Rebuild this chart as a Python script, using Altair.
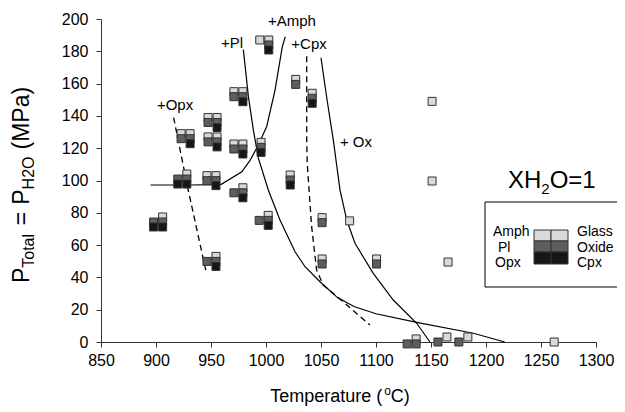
import altair as alt
import pandas as pd

FONT = "Liberation Sans"

# ---------------- experiments (anchor = top-right cell) ----------------
exp_T = [906, 928, 931, 955.5, 955.5, 954.5, 954.5, 979, 979, 979, 1002.5, 995.5, 1002,
         1027, 1042, 1022, 1051, 1051, 1076, 1100.5, 1151, 1151, 1165.5, 1136.5, 1164.5, 1183.5, 1262]
exp_P = [77.4, 104, 129, 139, 127, 103, 53, 155, 122.6, 95.5, 187, 123.6, 78.4,
         162.6, 154, 103.4, 77, 51.4, 75, 51.4, 149, 99.7, 49.5, 1.9, 3.1, 3.1, 0]
amph  = [0, 0, 1, 1, 1, 1, 0, 1, 1, 0, 1, 0, 0, 0, 0, 0, 0, 0, 0, 0, 0, 0, 0, 0, 0, 0, 0]
pl    = [1, 1, 1, 1, 1, 1, 1, 1, 1, 1, 0, 0, 1, 0, 0, 0, 0, 0, 0, 0, 0, 0, 0, 1, 1, 1, 0]
opx   = [1, 1, 0, 0, 0, 0, 0, 0, 0, 0, 0, 0, 0, 0, 0, 0, 0, 0, 0, 0, 0, 0, 0, 0, 0, 0, 0]
glass = [1, 1, 1, 1, 1, 1, 1, 1, 1, 1, 1, 1, 1, 1, 1, 1, 1, 1, 1, 1, 1, 1, 1, 1, 1, 1, 1]
oxide = [1, 1, 1, 1, 1, 1, 1, 1, 1, 1, 1, 1, 1, 1, 1, 1, 1, 1, 0, 1, 0, 0, 0, 1, 0, 0, 0]
cpx   = [1, 1, 1, 1, 1, 1, 1, 1, 1, 1, 1, 1, 1, 0, 1, 1, 0, 0, 0, 0, 0, 0, 0, 0, 0, 0, 0]

# ---------------- phase boundaries ----------------
amph_T = [895, 930, 959, 978, 985.5, 991.5, 1000.6, 1008.2, 1014.8, 1017.5]
amph_P = [97.2, 97.2, 97.5, 105.4, 112.5, 120, 133.3, 156, 182.8, 189]
pl_T = [979.4, 984, 988.5, 993, 1002.1, 1012.7, 1026.4, 1035.5, 1049.1, 1065, 1080, 1100, 1137, 1188.5, 1217]
pl_P = [181, 151.9, 131.3, 114, 94.1, 75.5, 55.9, 46.6, 37.3, 27.5, 22, 17.5, 12.2, 5.4, 0]
ox_T = [1050, 1055.5, 1061.2, 1067.3, 1073.4, 1080.9, 1097.5, 1115.7, 1137, 1149]
ox_P = [176, 150, 125, 94.1, 75.5, 61.1, 42.5, 26, 11.6, 0]
cpxb_T = [1037, 1037, 1037.5, 1041.5, 1046, 1052, 1070, 1094.5]
cpxb_P = [177, 125, 110, 71.4, 44.6, 35.3, 25, 10.5]
opxb_T = [916, 929, 946]
opxb_P = [139, 95, 42]

# ---------------- annotations ----------------
ann_text = ["+Opx", "+Pl", "+Amph", "+Cpx", "+ Ox"]
ann_T = [917.3, 969.1, 1023.6, 1039.1, 1081.8]
ann_P = [146.7, 185.1, 198.8, 184.5, 123.8]

x_ticks = list(range(850, 1301, 50))
y_ticks = list(range(0, 201, 20))

# ---------------- styles ----------------
LIGHT, MID, DARK = "#d9d9d9", "#5e5e5e", "#161616"
phase_style = {  # name: (flags, fill, xOffset, yOffset)
    "Amph": (amph, LIGHT, -9, 0),
    "Glass": (glass, LIGHT, 0, 0),
    "Pl": (pl, MID, -9, 5),
    "Oxide": (oxide, MID, 0, 5),
    "Opx": (opx, DARK, -9, 10),
    "Cpx": (cpx, DARK, 0, 10),
}

xs = alt.Scale(domain=[850, 1300], nice=False, zero=False)
ys = alt.Scale(domain=[0, 200], nice=False, zero=False)
X = alt.X("T:Q", scale=xs, axis=alt.Axis(values=x_ticks, format="d", title=None, grid=False, tickSize=5,
                                         labelPadding=5, labelFontSize=16, labelFont=FONT,
                                         labelFlush=False, labelOverlap=False,
                                         labelColor="black", domainColor="#333", tickColor="#333"))
Y = alt.Y("P:Q", scale=ys, axis=alt.Axis(values=y_ticks, format="d", title=None, grid=False, tickSize=5,
                                         labelPadding=8, labelFontSize=16, labelFont=FONT,
                                         labelFlush=False, labelOverlap=False,
                                         labelColor="black", domainColor="#333", tickColor="#333"))

layers = []

# curves
def curve_df(T, P, name):
    return pd.DataFrame({"T": T, "P": P, "curve": name, "o": list(range(len(T)))})

solid = pd.concat([curve_df(amph_T, amph_P, "amph"), curve_df(pl_T, pl_P, "pl"),
                   curve_df(ox_T, ox_P, "ox")])
dashed = pd.concat([curve_df(cpxb_T, cpxb_P, "cpx"), curve_df(opxb_T, opxb_P, "opx")])

layers.append(alt.Chart(solid).mark_line(color="black", strokeWidth=1.2).encode(
    x=X, y=Y, detail="curve:N", order="o:Q"))
layers.append(alt.Chart(dashed).mark_line(color="black", strokeWidth=1.3, strokeDash=[6, 4]).encode(
    x=X, y=Y, detail="curve:N", order="o:Q"))

# experiment symbols
for name, (flags, fill, dx, dy) in phase_style.items():
    df = pd.DataFrame({"T": exp_T, "P": exp_P, "f": flags})
    df = df[df.f == 1]
    layers.append(alt.Chart(df).mark_square(size=64, fill=fill, fillOpacity=1, stroke="#333",
                                             strokeWidth=1, xOffset=dx, yOffset=dy).encode(x=X, y=Y))

# annotations
ann = pd.DataFrame({"T": ann_T, "P": ann_P, "t": ann_text})
layers.append(alt.Chart(ann).mark_text(font=FONT, fontSize=15, color="black", align="center",
                                       baseline="middle").encode(x=X, y=Y, text="t:N"))

one = pd.DataFrame({"d": [0]})

def txt(s, x, y, fs, angle=0, align="left"):
    kw = dict(text=s, font=FONT, fontSize=fs, color="black", align=align, baseline="alphabetic")
    if angle:
        kw["angle"] = angle
    return alt.Chart(one).mark_text(**kw).encode(x=alt.value(x), y=alt.value(y))

W = {'T': 611, 'e': 556, 'm': 833, 'p': 556, 'r': 333, 'a': 556, 't': 278, 'u': 556, ' ': 278,
     '(': 333, ')': 333, 'C': 722, 'o': 556, 'P': 667, 'l': 222, '=': 584, 'H': 722,
     '2': 556, 'O': 778, 'M': 833, 'X': 667, '1': 556}

def tw(s, fs):
    return sum(W.get(c, 556) for c in s) * fs / 1000.0

# x title: Temperature (oC) with superscript o
xt_parts = [("Temperature (", 18, 0), ("o", 12, -7), ("C)", 18, 0)]
total = sum(tw(s, f) for s, f, _ in xt_parts)
cx = 239 - total / 2
for s, f, off in xt_parts:
    layers.append(txt(s, cx, 383 + off, f))
    cx += tw(s, f)

# y title: P_Total = P_H2O (MPa), rotated (part, size, baseline shift, gap after)
yt_parts = [("P", 23, 0, 0), ("Total", 16, 5, 7), ("=", 23, 0, 7), ("P", 23, 0, 0),
            ("H2O", 16, 5, 7), ("(MPa)", 23, 0, 0)]
total = sum(tw(s, f) + g for s, f, _, g in yt_parts)
cy = 166 + total / 2
for s, f, off, g in yt_parts:
    layers.append(txt(s, -72 + off, cy, f, angle=270))
    cy -= tw(s, f) + g

# XH2O=1
layers.append(txt("XH", 407, 169, 24))
layers.append(txt("2", 407 + tw("XH", 24), 175, 15))
layers.append(txt("O=1", 407 + tw("XH", 24) + tw("2", 15), 169, 24))

# legend box
layers.append(alt.Chart(one).mark_rect(fill="white", stroke="black", strokeWidth=1).encode(
    x=alt.value(384), x2=alt.value(521), y=alt.value(183), y2=alt.value(268)))
leg_cells = pd.DataFrame({
    "x0": [433, 450, 433, 450, 433, 450], "x1": [450, 467, 450, 467, 450, 467],
    "y0": [211, 211, 222, 222, 233, 233], "y1": [222, 222, 233, 233, 245, 245],
    "c": [LIGHT, LIGHT, MID, MID, DARK, DARK]})
for _, r in leg_cells.iterrows():
    layers.append(alt.Chart(one).mark_rect(fill=r.c, stroke="#333", strokeWidth=1).encode(
        x=alt.value(r.x0), x2=alt.value(r.x1), y=alt.value(r.y0), y2=alt.value(r.y1)))
for s, x, y in [("Amph", 392, 217), ("Pl", 397, 233), ("Opx", 394, 248),
                ("Glass", 476, 217), ("Oxide", 476, 233), ("Cpx", 476, 248)]:
    layers.append(txt(s, x, y, 14))

chart = alt.layer(*layers).properties(
    width=495, height=323,
    autosize=alt.AutoSizeParams(type="none"),
    padding={"left": 93, "top": 11, "right": 21, "bottom": 64},
    background="white",
).configure_view(stroke=None)

chart.save("out.html", embed_options={"renderer": "svg", "actions": False})
